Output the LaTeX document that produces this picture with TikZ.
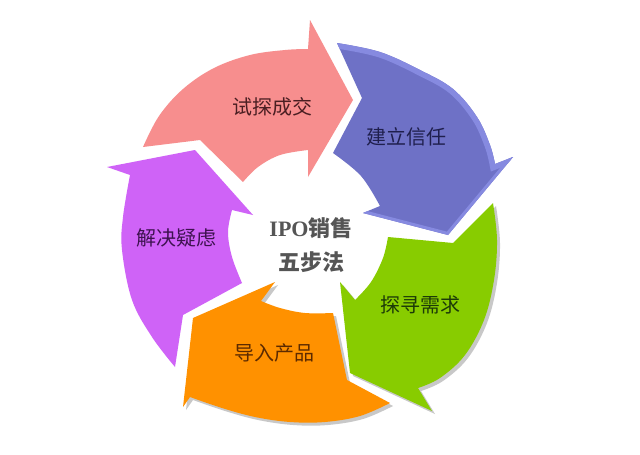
\documentclass[tikz,border=0pt]{standalone}
\usepackage{fontspec}
\newfontfamily\cjk{Noto Sans CJK SC}
\newfontfamily\serifb{Liberation Serif}
\definecolor{pinkc}{HTML}{F78E8E}
\definecolor{bluec}{HTML}{6E71C6}
\definecolor{bluelight}{HTML}{868AE0}
\definecolor{greenc}{HTML}{88CC00}
\definecolor{orangec}{HTML}{FF9100}
\definecolor{purplec}{HTML}{CF63F7}
\definecolor{shadowc}{HTML}{C8C8C8}
\definecolor{pinkt}{HTML}{4A1E22}
\definecolor{bluet}{HTML}{1F1F4D}
\definecolor{greent}{HTML}{1C3A08}
\definecolor{oranget}{HTML}{5C2A00}
\definecolor{purplet}{HTML}{3E1250}
\definecolor{centert}{HTML}{555555}
\newcommand\PinkShape[1]{\path[#1] plot[smooth,tension=0.6] coordinates {(143,147) (159,116) (183,89) (214,68) (250,55) (285,50) (308,49)} -- (310,20) -- (353,100) -- (308,177) -- plot[smooth,tension=0.6] coordinates {(308,150) (280,155) (258,167) (243,182)} -- (200,140) -- cycle;}
\newcommand\BlueShape[1]{\path[#1] plot[smooth,tension=0.6] coordinates {(337,43) (380,52) (420,70) (453,89) (477,117) (490,145) (495,164)} -- (513,157) -- (448,235) -- (363,213) -- plot[smooth,tension=0.6] coordinates {(380,206) (361,176) (333,153)} -- (362,98) -- cycle;}
\newcommand\GreenShape[1]{\path[#1] plot[smooth,tension=0.6] coordinates {(493,203) (497,240) (494,280) (484,320) (465,355) (440,378) (418,388)} -- (432,411) -- (350,373) -- (340,282) -- plot[smooth,tension=0.6] coordinates {(355,300) (371,282) (383,258) (388,237)} -- (453,243) -- cycle;}
\newcommand\OrangeShape[1]{\path[#1] plot[smooth,tension=0.6] coordinates {(390,403) (360,416) (325,422) (290,422) (255,417) (222,408) (190,397)} -- (183,407) -- (193,318) -- (275,282) -- plot[smooth,tension=0.6] coordinates {(261,301) (280,308) (305,313) (333,313)} -- (347,380) -- cycle;}
\newcommand\PurpleShape[1]{\path[#1] plot[smooth,tension=0.6] coordinates {(175,367) (152,337) (132,300) (122,250) (123,217) (130,175)} -- (107,167) -- (195,150) -- (253,215) -- plot[smooth,tension=0.6] coordinates {(232,210) (228,232) (232,257) (242,283)} -- (183,315) -- cycle;}
\tikzset{
  lbl/.style={font=\cjk\fontsize{20}{24}\selectfont, inner sep=0pt},
  ctr/.style={font=\bfseries\fontsize{22}{26}\selectfont, text=centert, inner sep=0pt}
}
\begin{document}
\begin{tikzpicture}[x=1pt,y=-1pt]
\fill[white] (0,0) rectangle (640,455);
\useasboundingbox (0,0) rectangle (640,455);
% shadows
\begin{scope}[shift={(3,3)}]
\GreenShape{fill=shadowc}
\OrangeShape{fill=shadowc}
\end{scope}
% arrows
\PinkShape{fill=pinkc}
\BlueShape{fill=bluec}
\begin{scope}
\BlueShape{clip}
\draw[bluelight, line width=11pt] plot[smooth,tension=0.6] coordinates {(337,43) (380,52) (420,70) (453,89) (477,117) (490,145) (495,164)} -- (513,157);
\draw[bluelight, line width=6pt] (513,157) -- (448,235) -- (363,213);
\end{scope}
\GreenShape{fill=greenc}
\OrangeShape{fill=orangec}
\PurpleShape{fill=purplec}
% labels
\node[lbl, text=pinkt] (l1) at (272,107) {试探成交};
\node[lbl, text=bluet] (l2) at (406,137) {建立信任};
\node[lbl, text=greent] (l3) at (420,305) {探寻需求};
\node[lbl, text=oranget] (l4) at (274,353) {导入产品};
\node[lbl, text=purplet] (l5) at (176,238) {解决疑虑};
\node[ctr] (c1) at (311,228) {{\serifb\bfseries IPO}{\cjk\bfseries 销售}};
\node[ctr] (c2) at (311,262) {\cjk\bfseries 五步法};
\end{tikzpicture}
\end{document}
